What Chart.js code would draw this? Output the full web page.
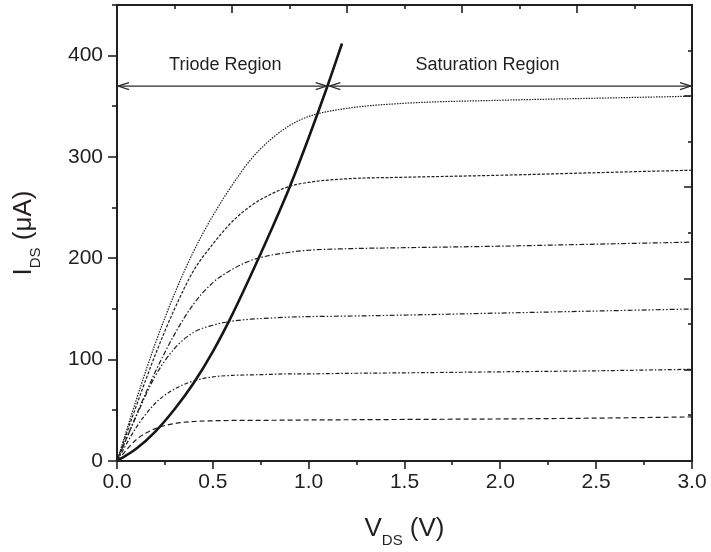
<!DOCTYPE html>
<html>
<head>
<meta charset="utf-8">
<script src="https://cdn.jsdelivr.net/npm/chart.js@4/dist/chart.umd.min.js"></script>
<style>
  html, body { margin: 0; padding: 0; background: #ffffff; }
  #wrap { width: 711px; height: 552px; position: relative; }
</style>
</head>
<body>
<div id="wrap"><canvas id="c" width="711" height="552"></canvas></div>
<script>
// ---------- DATA ----------
const vds = [0, 0.1, 0.2, 0.3, 0.4, 0.5, 0.6, 0.7, 0.8, 0.9, 1.0, 1.2, 1.5, 2.0, 2.5, 3.0];
const idsCurve6 = [0, 60, 116, 165, 207, 242, 272, 298, 317, 331, 340, 348, 353, 356, 358, 360];
const idsCurve5 = [0, 54, 105, 150, 188, 214, 236, 252, 263, 271, 275, 278.5, 280, 282, 284.5, 287];
const idsCurve4 = [0, 45, 88, 125, 155, 176, 189, 198, 203, 206, 208, 209.5, 210.5, 212, 214, 216];
const idsCurve3 = [0, 44, 84, 111, 127, 134, 138, 140, 141, 142, 142.5, 143, 144, 146, 148, 150];
const idsCurve2 = [0, 33, 57, 71, 79, 83, 84.5, 85, 85.5, 86, 86, 86.5, 87, 88, 89, 90.5];
const idsCurve1 = [0, 21, 32, 37, 39, 39.7, 40, 40, 40.2, 40.3, 40.5, 40.7, 41, 41.5, 42.3, 43.5];

const vBoundary = [0, 0.1, 0.2, 0.3, 0.4, 0.5, 0.6, 0.7, 0.8, 0.9, 1.0, 1.1, 1.174];
const iBoundary = [0, 12, 29, 51, 77, 108, 144, 184, 226, 270, 319, 371, 412];

const xTickValues = [0, 0.5, 1.0, 1.5, 2.0, 2.5, 3.0];
const xMinorValues = [0.25, 0.75, 1.25, 1.75, 2.25, 2.75];
const yTickValues = [0, 100, 200, 300, 400];
const yMinorValues = [50, 150, 250, 350, 450];
const topMajorValues = [0.6, 1.2, 1.8, 2.4, 3.0];
const topMinorValues = [0.3, 0.9, 1.5, 2.1, 2.7];
const rightMajorValues = [90, 180, 270, 360, 450];
const rightMinorValues = [45, 135, 225, 315, 405];

const regionLabels = ['Triode Region', 'Saturation Region'];
const regionLabelX = [0.565, 1.933];
const regionLabelY = 386;
const arrowLevel = 370;
const triodeSpan = [0, 1.094];
const saturationSpan = [1.108, 3.0];

// ---------- CHART ----------
const ink = '#231f20';
const FONT = "'Liberation Sans', Arial, Helvetica, sans-serif";
const toXY = (xs, ys) => xs.map((v, i) => ({ x: v, y: ys[i] }));

function curve(data, dash) {
  return {
    data: data, borderColor: '#1e1e1e', borderWidth: 1.2, borderDash: dash,
    pointRadius: 0, fill: false, cubicInterpolationMode: 'monotone'
  };
}

const decor = {
  id: 'decor',
  afterDraw(chart) {
    const { ctx, chartArea: a, scales: { x, y } } = chart;
    ctx.save();
    ctx.strokeStyle = ink;
    ctx.lineWidth = 2;
    ctx.strokeRect(a.left, a.top, a.right - a.left, a.bottom - a.top);
    ctx.lineWidth = 1.6;
    const tick = (x1, y1, x2, y2) => { ctx.beginPath(); ctx.moveTo(x1, y1); ctx.lineTo(x2, y2); ctx.stroke(); };
    xTickValues.forEach(v => { const px = Math.round(x.getPixelForValue(v)); tick(px, a.bottom, px, a.bottom + 8); });
    xMinorValues.forEach(v => { const px = Math.round(x.getPixelForValue(v)); tick(px, a.bottom, px, a.bottom + 4); });
    yTickValues.forEach(v => { const py = Math.round(y.getPixelForValue(v)); tick(a.left - 9, py, a.left, py); });
    yMinorValues.forEach(v => { const py = Math.round(y.getPixelForValue(v)); tick(a.left - 5, py, a.left, py); });
    topMajorValues.forEach(v => { const px = Math.round(x.getPixelForValue(v)); tick(px, a.top, px, a.top + 8); });
    topMinorValues.forEach(v => { const px = Math.round(x.getPixelForValue(v)); tick(px, a.top, px, a.top + 4); });
    rightMajorValues.forEach(v => { const py = Math.round(y.getPixelForValue(v)); tick(a.right - 8, py, a.right, py); });
    rightMinorValues.forEach(v => { const py = Math.round(y.getPixelForValue(v)); tick(a.right - 4, py, a.right, py); });

    ctx.strokeStyle = '#2a2a2a';
    ctx.lineWidth = 1.2;
    const ay = y.getPixelForValue(arrowLevel);
    const dblArrow = (x1, x2) => {
      tick(x1, ay, x2, ay);
      ctx.beginPath();
      ctx.moveTo(x1 + 11, ay - 3.5); ctx.lineTo(x1, ay); ctx.lineTo(x1 + 11, ay + 3.5);
      ctx.moveTo(x2 - 11, ay - 3.5); ctx.lineTo(x2, ay); ctx.lineTo(x2 - 11, ay + 3.5);
      ctx.stroke();
    };
    dblArrow(x.getPixelForValue(triodeSpan[0]) + 1, x.getPixelForValue(triodeSpan[1]));
    dblArrow(x.getPixelForValue(saturationSpan[0]), x.getPixelForValue(saturationSpan[1]) - 1);

    ctx.fillStyle = ink;
    ctx.font = '18px ' + FONT;
    ctx.textAlign = 'center';
    ctx.textBaseline = 'alphabetic';
    regionLabels.forEach((t, i) => ctx.fillText(t, x.getPixelForValue(regionLabelX[i]), y.getPixelForValue(regionLabelY)));

    const titleWithSub = (main, sub, rest, cx, baseY, mainSize, subSize, subDrop) => {
      ctx.font = mainSize + 'px ' + FONT;
      const w1 = ctx.measureText(main).width;
      const w3 = ctx.measureText(rest).width;
      ctx.font = subSize + 'px ' + FONT;
      const w2 = ctx.measureText(sub).width;
      let sx = cx - (w1 + w2 + w3) / 2;
      ctx.textAlign = 'left';
      ctx.font = mainSize + 'px ' + FONT;
      ctx.fillText(main, sx, baseY);
      ctx.font = subSize + 'px ' + FONT;
      ctx.fillText(sub, sx + w1, baseY + subDrop);
      ctx.font = mainSize + 'px ' + FONT;
      ctx.fillText(rest, sx + w1 + w2, baseY);
    };
    titleWithSub('V', 'DS', ' (V)', (a.left + a.right) / 2, 536, 26, 15, 9);
    ctx.save();
    ctx.translate(31, (a.top + a.bottom) / 2);
    ctx.rotate(-Math.PI / 2);
    titleWithSub('I', 'DS', ' (\u03BCA)', 0, 0, 26, 15, 9);
    ctx.restore();
    ctx.restore();
  }
};

new Chart(document.getElementById('c'), {
  type: 'line',
  data: {
    datasets: [
      curve(toXY(vds, idsCurve6), [1.5, 1.2]),
      curve(toXY(vds, idsCurve5), [3, 1.6]),
      curve(toXY(vds, idsCurve4), [5, 2, 1.5, 2]),
      curve(toXY(vds, idsCurve3), [5, 2, 1.5, 2, 1.5, 2]),
      curve(toXY(vds, idsCurve2), [4, 2, 1.5, 2]),
      curve(toXY(vds, idsCurve1), [5, 3]),
      {
        data: toXY(vBoundary, iBoundary), borderColor: '#161616', borderWidth: 2.6,
        pointRadius: 0, fill: false, cubicInterpolationMode: 'monotone'
      }
    ]
  },
  options: {
    responsive: false,
    devicePixelRatio: 1,
    animation: false,
    layout: { padding: { top: 5, right: 19, left: 0, bottom: 0 } },
    plugins: { legend: { display: false }, tooltip: { enabled: false }, title: { display: false } },
    scales: {
      x: {
        type: 'linear', min: 0, max: 3,
        afterBuildTicks: s => { s.ticks = xTickValues.map(v => ({ value: v })); },
        afterFit: s => { s.height = 91; s.paddingLeft = 0; s.paddingRight = 0; },
        grid: { display: true, drawOnChartArea: false, drawTicks: false, color: 'rgba(0,0,0,0)' },
        border: { display: false },
        ticks: { color: ink, font: { family: FONT, size: 21 }, padding: 9, maxRotation: 0,
                 callback: v => Number(v).toFixed(1) }
      },
      y: {
        type: 'linear', min: 0, max: 450,
        afterBuildTicks: s => { s.ticks = yTickValues.map(v => ({ value: v })); },
        afterFit: s => { s.width = 117; s.paddingTop = 0; s.paddingBottom = 0; },
        grid: { display: true, drawOnChartArea: false, drawTicks: false, color: 'rgba(0,0,0,0)' },
        border: { display: false },
        ticks: { color: ink, font: { family: FONT, size: 21 }, padding: 14,
                 callback: v => String(v) }
      }
    }
  },
  plugins: [decor]
});
</script>
</body>
</html>
